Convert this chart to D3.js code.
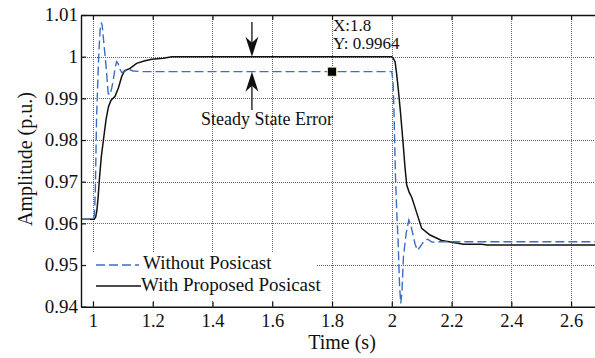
<!DOCTYPE html>
<html><head><meta charset="utf-8">
<script src="https://cdn.jsdelivr.net/npm/d3@7/dist/d3.min.js"></script>
<style>
html,body{margin:0;padding:0;background:#fff;}
svg{display:block;}
text{font-family:"Liberation Serif","Times New Roman",serif;fill:#111;}
</style></head>
<body>
<svg id="chart" width="595" height="358"></svg>
<script>
// ---- data ----
const timeBlue = [0.96, 1.0, 1.005, 1.008, 1.012, 1.019, 1.024, 1.028, 1.031, 1.035, 1.044, 1.051, 1.057, 1.063, 1.068, 1.074, 1.079, 1.084, 1.089, 1.096, 1.105, 1.118, 1.135, 1.168,
  2.0, 2.004, 2.007, 2.012, 2.017, 2.021, 2.026, 2.03, 2.034, 2.039, 2.048, 2.057, 2.064, 2.07, 2.078, 2.086, 2.096, 2.108, 2.12, 2.134, 2.16, 2.68];
const ampBlue = [0.961, 0.961, 0.962, 0.968, 0.985, 1.0, 1.0065, 1.0082, 1.0075, 1.0044, 0.9976, 0.9912, 0.9908, 0.9925, 0.9944, 0.9972, 0.9988, 0.9984, 0.9972, 0.9962, 0.9964, 0.997, 0.99656, 0.9964,
  0.9964, 0.994, 0.988, 0.972, 0.962, 0.956, 0.945, 0.9408, 0.9435, 0.952, 0.9576, 0.9608, 0.9595, 0.9576, 0.955, 0.9535, 0.9545, 0.9558, 0.9562, 0.9555, 0.9556, 0.9556];
const timeBlack = [0.96, 1.004, 1.009, 1.013, 1.017, 1.022, 1.028, 1.035, 1.044, 1.052, 1.06, 1.074, 1.085, 1.096, 1.105, 1.124, 1.146, 1.174, 1.197, 1.235, 1.264,
  2.0, 2.005, 2.011, 2.016, 2.022, 2.028, 2.037, 2.044, 2.05, 2.058, 2.067, 2.084, 2.1, 2.128, 2.167, 2.206, 2.24, 2.3, 2.32, 2.68];
const ampBlack = [0.961, 0.961, 0.9615, 0.963, 0.966, 0.971, 0.976, 0.98, 0.985, 0.988, 0.9895, 0.9905, 0.9925, 0.9952, 0.9966, 0.9972, 0.9984, 0.999, 0.9994, 0.9996, 1.0,
  1.0, 0.9996, 0.9988, 0.996, 0.992, 0.9875, 0.98, 0.9736, 0.9692, 0.9675, 0.9662, 0.9624, 0.9588, 0.9572, 0.9559, 0.9554, 0.955, 0.955, 0.9548, 0.9548];
const xTicks = [1, 1.2, 1.4, 1.6, 1.8, 2, 2.2, 2.4, 2.6];
const xTickLabels = ["1", "1.2", "1.4", "1.6", "1.8", "2", "2.2", "2.4", "2.6"];
const yTicks = [0.94, 0.95, 0.96, 0.97, 0.98, 0.99, 1.0, 1.01];
const yTickLabels = ["0.94", "0.95", "0.96", "0.97", "0.98", "0.99", "1", "1.01"];
const seriesNames = ["Without Posicast", "With Proposed Posicast"];
const dataTip = {x: 1.8, y: 0.9964};
const errorArrowX = 1.532;
const refLevel = 1.0;

// ---- layout ----
const svg = d3.select("#chart");
const L = 81, R = 595, T = 15, B = 306.7;
const x = d3.scaleLinear().domain([0.96, 2.68]).range([L, R]);
const y = d3.scaleLinear().domain([0.94, 1.01]).range([B, T]);

svg.append("defs").append("clipPath").attr("id", "clip")
  .append("rect").attr("x", L).attr("y", T).attr("width", R - L).attr("height", B - T);

// grid
const grid = svg.append("g").attr("stroke", "#666").attr("stroke-width", 1).attr("stroke-dasharray", "1,1");
grid.selectAll(".gx").data(xTicks).enter().append("line")
  .attr("x1", d => Math.round(x(d)) + 0.5).attr("x2", d => Math.round(x(d)) + 0.5)
  .attr("y1", T).attr("y2", B);
grid.selectAll(".gy").data(yTicks.filter(d => d > 0.94 && d < 1.01)).enter().append("line")
  .attr("y1", d => Math.round(y(d)) + 0.5).attr("y2", d => Math.round(y(d)) + 0.5)
  .attr("x1", L).attr("x2", R);

// lines
const lineGen = d3.line().x(d => x(d[0])).y(d => y(d[1]));
const blackData = timeBlack.map((t, i) => [t, ampBlack[i]]);
const blueData = timeBlue.map((t, i) => [t, ampBlue[i]]);
const plot = svg.append("g").attr("clip-path", "url(#clip)");
plot.append("path").datum(blackData).attr("d", lineGen)
  .attr("fill", "none").attr("stroke", "#111").attr("stroke-width", 1.5);
plot.append("path").datum(blueData).attr("d", lineGen)
  .attr("fill", "none").attr("stroke", "#3a6fc4").attr("stroke-width", 1.4)
  .attr("stroke-dasharray", "9,4");

// axes
const fmtX = d => xTickLabels[xTicks.indexOf(d)];
const fmtY = d => yTickLabels[yTicks.indexOf(d)];
const axB = svg.append("g").attr("transform", `translate(0,${B})`)
  .call(d3.axisBottom(x).tickValues(xTicks).tickFormat(fmtX).tickSizeInner(-5).tickSizeOuter(0).tickPadding(8));
const axT = svg.append("g").attr("transform", `translate(0,${T})`)
  .call(d3.axisTop(x).tickValues(xTicks).tickFormat("").tickSizeInner(-5).tickSizeOuter(0));
const axL = svg.append("g").attr("transform", `translate(${L},0)`)
  .call(d3.axisLeft(y).tickValues(yTicks).tickFormat(fmtY).tickSizeInner(-5).tickSizeOuter(0).tickPadding(3));
[axB, axT, axL].forEach(a => {
  a.select(".domain").attr("stroke", "#111").attr("stroke-width", 1.4);
  a.selectAll(".tick line").attr("stroke", "#111").attr("stroke-width", 1.2);
  a.selectAll("text").attr("font-family", "Liberation Serif, Times New Roman, serif")
    .attr("font-size", 19).attr("fill", "#111");
});
axL.selectAll("text").attr("dy", "0.3em");
axB.selectAll("text").attr("font-size", 18.5).attr("dy", "0.68em");

// axis labels
svg.append("text").attr("x", 342).attr("y", 349).attr("text-anchor", "middle")
  .attr("font-size", 20).text("Time (s)");
svg.append("text").attr("transform", "translate(32,159) rotate(-90)").attr("text-anchor", "middle")
  .attr("font-size", 20).text("Amplitude (p.u.)");

// legend
const lg = svg.append("g");
lg.append("rect").attr("x", 87).attr("y", 253).attr("width", 230).attr("height", 47).attr("fill", "#fff");
lg.append("line").attr("x1", 96).attr("x2", 139).attr("y1", 265).attr("y2", 265)
  .attr("stroke", "#3a6fc4").attr("stroke-width", 1.4).attr("stroke-dasharray", "9,4");
lg.append("text").attr("x", 143).attr("y", 269).attr("font-size", 19).text(seriesNames[0]);
lg.append("line").attr("x1", 96).attr("x2", 141).attr("y1", 286).attr("y2", 286)
  .attr("stroke", "#111").attr("stroke-width", 1.5);
lg.append("text").attr("x", 141).attr("y", 291).attr("font-size", 19).text(seriesNames[1]);

// steady-state error arrows
function arrow(xPix, yFrom, yTo) {
  const dir = Math.sign(yTo - yFrom);
  svg.append("line").attr("x1", xPix).attr("x2", xPix).attr("y1", yFrom).attr("y2", yTo - dir * 10)
    .attr("stroke", "#111").attr("stroke-width", 1.3);
  const h = 20, w = 6.5, back = 6;
  const p = [[xPix, yTo], [xPix - w, yTo - dir * h], [xPix, yTo - dir * (h - back)], [xPix + w, yTo - dir * h]];
  svg.append("path").attr("d", "M" + p.map(q => q.join(",")).join("L") + "Z").attr("fill", "#111");
}
const ax = x(errorArrowX);
arrow(ax, 22, y(refLevel));
arrow(ax, 110, y(dataTip.y));
svg.append("text").attr("x", 267).attr("y", 125).attr("text-anchor", "middle")
  .attr("font-size", 18).text("Steady State Error");

// data tip
svg.append("rect").attr("x", x(dataTip.x) - 4.5).attr("y", y(dataTip.y) - 4.5)
  .attr("width", 9).attr("height", 9).attr("fill", "#000").attr("stroke", "#f3efc0").attr("stroke-width", 0.8);
svg.append("text").attr("x", 333).attr("y", 31).attr("font-size", 17).text("X:" + dataTip.x);
svg.append("text").attr("x", 333).attr("y", 49).attr("font-size", 17).text("Y: " + dataTip.y);
</script>
</body></html>
